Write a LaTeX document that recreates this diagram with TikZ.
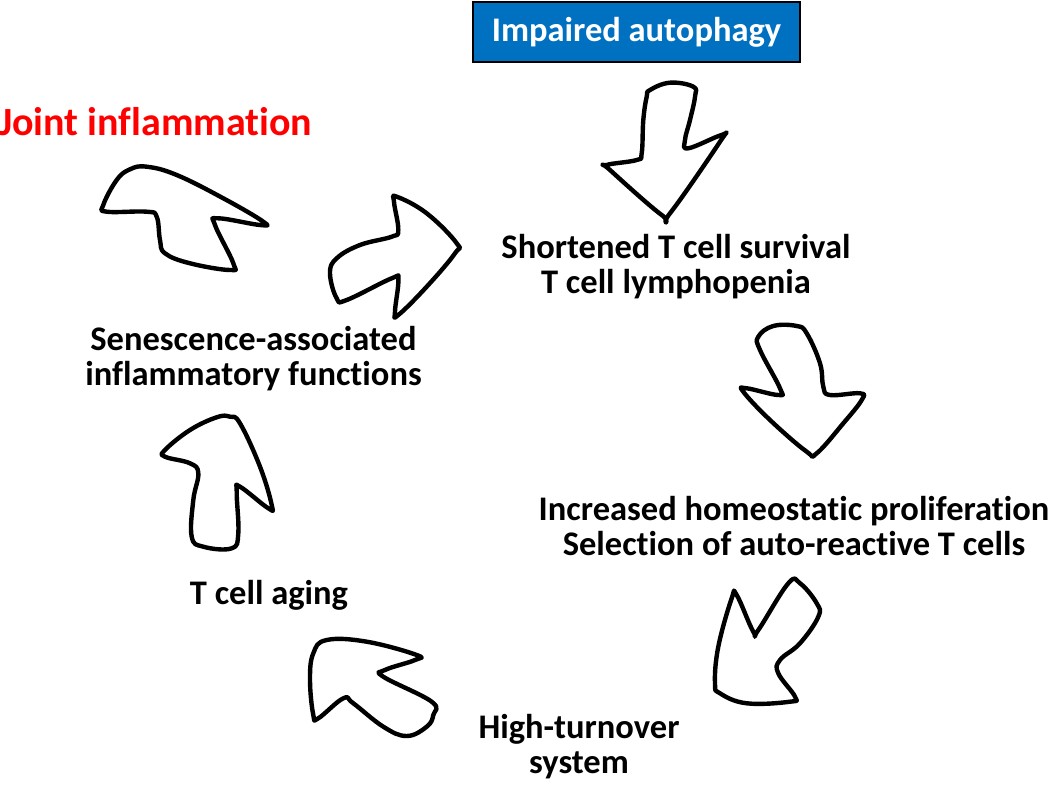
\documentclass[tikz,border=0pt]{standalone}
\usepackage{fontspec}
\setmainfont{Carlito}[Ligatures={NoCommon}]
\definecolor{boxblue}{HTML}{0070C0}
\definecolor{redtxt}{HTML}{FF0000}
\begin{document}
\begin{tikzpicture}[x=1pt,y=-1pt,
  lbl/.style={font=\fontsize{34.5}{35}\selectfont\bfseries, align=center, inner sep=0pt},
  wobble/.style={draw=black, line width=4.4pt, line join=round, smooth cycle, tension=0.68}]
\useasboundingbox (0,0) rectangle (1050,787);

% boxes and labels
\node[lbl, fill=boxblue, draw=black, line width=1.2pt, text=white, minimum width=327pt, minimum height=60pt] (impaired) at (636.5,32) {Impaired autophagy};
\node[lbl, font=\fontsize{40}{44}\selectfont\bfseries, text=redtxt, anchor=base west] (joint) at (-1,135) {Joint inflammation};
\node[lbl] (shortened) at (676,267) {Shortened T cell survival\\T cell lymphopenia};
\node[lbl] (increased) at (794,526) {Increased homeostatic proliferation\\Selection of auto-reactive T cells};
\node[lbl] (high) at (579,747) {High-turnover\\system};
\node[lbl] (senescence) at (253.5,359) {Senescence-associated\\inflammatory functions};
\node[lbl, anchor=base] (aging) at (269,604) {T cell aging};

% arrow 1 (down, below Impaired autophagy)
\draw[wobble] plot coordinates {(650,90) (670,82.7) (693.3,86.7) (695,96.7) (690,120) (685,140) (688.3,148.3) (721.7,135) (720,141.7) (670,213.3) (661.7,215) (610,170) (606.7,165) (636.7,160) (641.7,153.3) (643.3,120) (646.7,96.7)};

% arrow 2 (right, towards Shortened)
\draw[wobble] plot coordinates {(396.7,196.7) (426.7,213.3) (456.7,243.3) (455,253.3) (426.7,286.7) (398.3,315) (395,311.7) (398.3,280) (391.7,278.3) (346.7,300) (336.7,298.3) (330,273.3) (336.7,258.3) (360,245) (391.7,236.7) (398.3,230) (394,201.7)};

% arrow 3 (towards Joint inflammation)
\draw[wobble] plot coordinates {(146.7,166.7) (176.7,175) (223.3,198.3) (263.3,221.7) (260,225) (218.3,218.3) (215,225) (233.3,263.3) (230,270) (190,263.3) (165,253.3) (160,240) (156.7,216.7) (146.7,211.7) (106.7,211.7) (103.3,205) (116.7,180) (130,169.3)};

% arrow 4 (up, above T cell aging)
\draw[wobble] plot coordinates {(230,416.7) (240,423.3) (260,466.7) (271.7,505) (268.3,508.3) (240,486.7) (236.7,491.7) (238.3,533.3) (231.7,548.3) (203.3,546.7) (191.7,536.7) (193.3,500) (198.3,473.3) (190,463.3) (165,456.7) (165,450) (190,430) (216.7,417.3)};

% arrow 5 (down, right side)
\draw[wobble] plot coordinates {(758.3,336.7) (773.3,326) (796.7,326) (806.7,333.3) (820,363.3) (823.3,386.7) (830,395) (860,393.3) (861.7,400) (843.3,423.3) (816.7,453.3) (806.7,451.7) (770,420) (743.3,391.7) (746.7,388.3) (778.3,395) (780,388.3) (760,350)};

% arrow 6 (down-left)
\draw[wobble] plot coordinates {(736.7,595) (753.3,631.7) (758.3,630) (788.3,583.3) (800,583.3) (816.7,603.3) (818.3,616.7) (800,643.3) (780,660) (778.3,673.3) (795,696.7) (790,701.7) (746.7,703.3) (720,693.3) (715,683.3) (718.3,646.7) (731.7,598.3)};

% arrow 7 (up-left)
\draw[wobble] plot coordinates {(313.3,653.3) (326.7,640) (366.7,641.7) (416.7,655) (415,660) (385,670) (383.3,676.7) (431.7,701.7) (433.3,715) (426.7,726.7) (406.7,736) (383.3,726.7) (353.3,703.3) (343.3,698.3) (318.3,718.3) (313.3,715) (310,680)};
\end{tikzpicture}
\end{document}
